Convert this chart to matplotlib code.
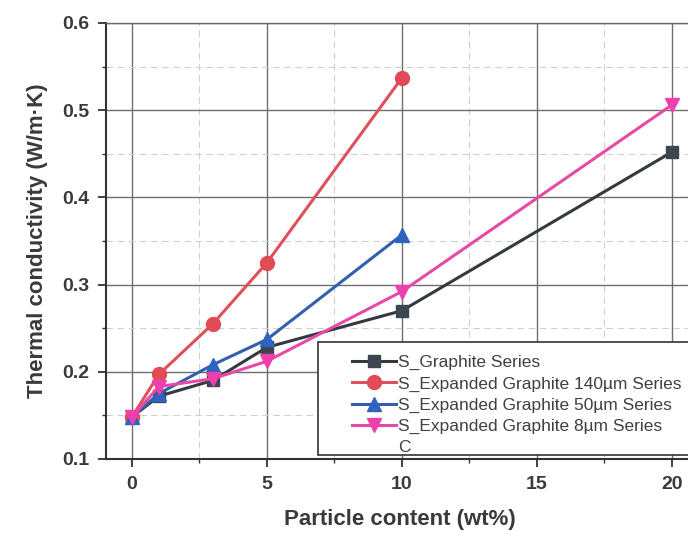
import matplotlib
matplotlib.use("Agg")
import matplotlib.pyplot as plt
from matplotlib.lines import Line2D
from matplotlib.patches import Rectangle
from matplotlib.ticker import MultipleLocator

plt.rcParams['font.family'] = ['Liberation Sans', 'DejaVu Sans']

# particle content (wt%)
x_graphite = [0, 1, 3, 5, 10, 20]
y_graphite = [0.148, 0.172, 0.190, 0.228, 0.270, 0.452]

x_eg140 = [0, 1, 3, 5, 10]
y_eg140 = [0.148, 0.197, 0.255, 0.325, 0.537]
err_eg140 = [0.0, 0.004, 0.007, 0.003, 0.003]

x_eg50 = [0, 1, 3, 5, 10]
y_eg50 = [0.148, 0.175, 0.208, 0.237, 0.357]

x_eg8 = [0, 1, 3, 5, 10, 20]
y_eg8 = [0.148, 0.183, 0.192, 0.212, 0.292, 0.506]

labels = ['S_Graphite Series', 'S_Expanded Graphite 140\u00b5m Series',
          'S_Expanded Graphite 50\u00b5m Series', 'S_Expanded Graphite 8\u00b5m Series']

fig = plt.figure(figsize=(6.88, 5.47), dpi=100)
ax = fig.add_axes([0.154, 0.161, 0.854, 0.797])

# grid
ax.xaxis.set_major_locator(MultipleLocator(5))
ax.xaxis.set_minor_locator(MultipleLocator(2.5))
ax.yaxis.set_major_locator(MultipleLocator(0.1))
ax.yaxis.set_minor_locator(MultipleLocator(0.05))
ax.grid(which='major', color='#6e6e6e', lw=1.0, zorder=0)
ax.grid(which='minor', color='#d0d0d0', lw=0.8, ls=(0, (6, 4)), zorder=0)
ax.set_axisbelow(True)

ax.plot(x_graphite, y_graphite, '-s', color='#333a40', mfc='#3b4650', mec='#3b4650',
        lw=2.2, ms=9, zorder=3)
ax.errorbar(x_eg140, y_eg140, yerr=err_eg140, fmt='-o', color='#e0505a', mfc='#e24a55',
            mec='#e24a55', lw=2.2, ms=10, capsize=0, elinewidth=1.5, zorder=4)
ax.plot(x_eg50, y_eg50, '-^', color='#3260ae', mfc='#2f63c0', mec='#2f63c0',
        lw=2.2, ms=10, zorder=5)
ax.plot(x_eg8, y_eg8, '-v', color='#e64aa6', mfc='#ee3fae', mec='#ee3fae',
        lw=2.2, ms=10, zorder=6)

ax.set_xlim(-0.96, 20.8)
ax.set_ylim(0.1, 0.6)

ax.spines['right'].set_visible(False)
for s in ['left', 'bottom', 'top']:
    ax.spines[s].set_linewidth(1.5)
    ax.spines[s].set_color('#333333')
ax.spines['top'].set_linewidth(1.0)
ax.spines['top'].set_color('#666666')

ax.tick_params(which='major', direction='out', length=6, width=1.3, color='#333333',
               labelsize=14, labelcolor='#3a3a3a', pad=6)
ax.tick_params(which='minor', direction='out', length=3, width=1.0, color='#333333')
for lbl in ax.get_xticklabels() + ax.get_yticklabels():
    lbl.set_fontweight('bold')

ax.set_xlabel('Particle content (wt%)', fontsize=16, fontweight='bold', color='#3a3a3a',
              labelpad=12)
ax.set_ylabel('Thermal conductivity (W/m\u00b7K)', fontsize=16, fontweight='bold',
              color='#3a3a3a', labelpad=10)

# legend box (runs off the right edge like the original)
box = Rectangle((0.361, 0.009), 0.8, 0.259, transform=ax.transAxes, facecolor='white',
                edgecolor='#333333', lw=1.2, zorder=9, clip_on=False)
ax.add_patch(box)

handles = [
    Line2D([], [], color='#333a40', marker='s', mfc='#3b4650', mec='#3b4650', lw=2.2, ms=9),
    Line2D([], [], color='#e0505a', marker='o', mfc='#e24a55', mec='#e24a55', lw=2.2, ms=10),
    Line2D([], [], color='#3260ae', marker='^', mfc='#2f63c0', mec='#2f63c0', lw=2.2, ms=10),
    Line2D([], [], color='#e64aa6', marker='v', mfc='#ee3fae', mec='#ee3fae', lw=2.2, ms=10),
    Line2D([], [], color='none'),
]
leg = ax.legend(handles, labels + ['C'], loc='upper left', bbox_to_anchor=(0.419, 0.238),
                fontsize=12.5, frameon=False, handlelength=2.5, handletextpad=0.15,
                labelspacing=0.34, borderpad=0, borderaxespad=0)
leg.set_zorder(10)
for t in leg.get_texts():
    t.set_color('#404040')

fig.savefig('out.png', dpi=100)
